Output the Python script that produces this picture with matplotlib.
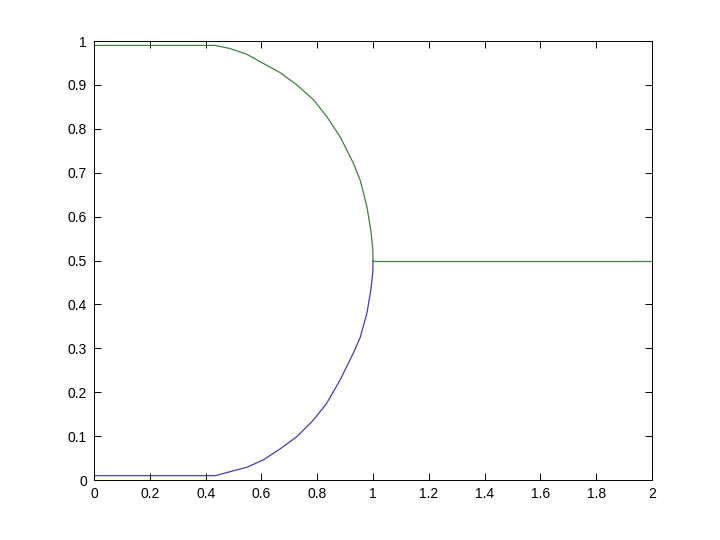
import matplotlib.pyplot as plt

# branch points
x_branch = [0.0, 0.2, 0.435, 0.487, 0.547, 0.607, 0.667, 0.727, 0.787,
            0.834, 0.882, 0.930, 0.954, 0.978, 0.992, 0.999, 1.0]
y_lower = [0.01, 0.01, 0.01, 0.019, 0.029, 0.046, 0.071, 0.099, 0.137,
           0.175, 0.228, 0.290, 0.325, 0.380, 0.432, 0.473, 0.5]
y_upper = [0.99, 0.99, 0.99, 0.983, 0.970, 0.949, 0.928, 0.900, 0.866,
           0.828, 0.782, 0.721, 0.683, 0.623, 0.569, 0.527, 0.5]

# single branch after x = 1
x_tail = [1.0, 2.0]
y_tail = [0.5, 0.5]

x_ticks = [0, 0.2, 0.4, 0.6, 0.8, 1, 1.2, 1.4, 1.6, 1.8, 2]
y_ticks = [0, 0.1, 0.2, 0.3, 0.4, 0.5, 0.6, 0.7, 0.8, 0.9, 1]

plt.rcParams["font.family"] = ["Liberation Sans", "DejaVu Sans"]

fig = plt.figure(figsize=(7.2, 5.4), dpi=100, facecolor="white")
ax = fig.add_axes([0.1306, 0.111, 0.775, 0.813])

blue = (0.25, 0.25, 0.7)
green = (0.25, 0.5, 0.25)
ax.plot(x_branch, y_lower, color=blue, lw=0.9)
ax.plot(x_branch, y_upper, color=green, lw=0.9)
ax.plot(x_tail, y_tail, color=green, lw=0.9)

ax.set_xlim(0, 2)
ax.set_ylim(0, 1)
ax.set_xticks(x_ticks)
ax.set_yticks(y_ticks)
ax.set_xticklabels(["%g" % t for t in x_ticks])
ax.set_yticklabels(["%g" % t for t in y_ticks])
ax.tick_params(direction="in", top=True, right=True, length=5,
               width=0.7, labelsize=10, pad=5)
for s in ax.spines.values():
    s.set_linewidth(0.7)

fig.savefig("out.png", dpi=100, facecolor="white")
